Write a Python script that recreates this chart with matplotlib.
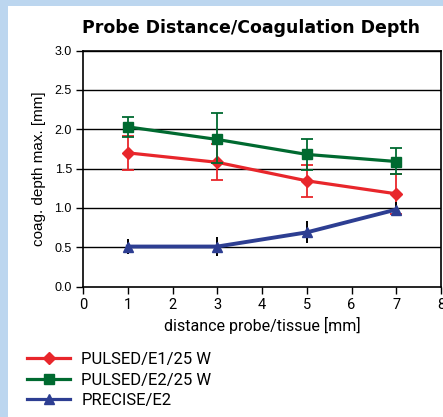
import matplotlib
matplotlib.use("Agg")
import matplotlib.pyplot as plt
from matplotlib.patches import Rectangle
from matplotlib.lines import Line2D

# Data
x = [1, 3, 5, 7]
e1_vals = [1.70, 1.58, 1.345, 1.18]
e1_lo = [1.48, 1.35, 1.145, 0.92]
e1_hi = [1.91, 1.81, 1.55, 1.43]

e2_vals = [2.03, 1.87, 1.68, 1.59]
e2_lo = [1.90, 1.57, 1.48, 1.43]
e2_hi = [2.16, 2.21, 1.88, 1.76]

pr_vals = [0.51, 0.51, 0.69, 0.98]
pr_lo = [0.42, 0.39, 0.55, 0.90]
pr_hi = [0.60, 0.63, 0.84, 1.08]

series_labels = ["PULSED/E1/25 W", "PULSED/E2/25 W", "PRECISE/E2"]
title = "Probe Distance/Coagulation Depth"
xlabel = "distance probe/tissue [mm]"
ylabel = "coag. depth max. [mm]"
xticks = [0, 1, 2, 3, 4, 5, 6, 7, 8]
yticks = [0.0, 0.5, 1.0, 1.5, 2.0, 2.5, 3.0]

RED = "#e8262b"
GREEN = "#006a30"
BLUE = "#2d3e92"
BG = "#bcd6ef"

W, H = 443, 417
fig = plt.figure(figsize=(W / 100, H / 100), dpi=100, facecolor=BG)
fig.patches.append(Rectangle((8 / W, 0), 1, 1 - 6 / H, transform=fig.transFigure,
                             facecolor="white", edgecolor="none", zorder=-10))

left, right = 83 / W, 441 / W
bottom, top = 1 - 286.7 / H, 1 - 50.5 / H
ax = fig.add_axes([left, bottom, right - left, top - bottom])
ax.set_facecolor("white")
ax.set_xlim(0, 8)
ax.set_ylim(0, 3)

for yv in yticks[1:]:
    ax.axhline(yv, color="black", lw=1.0, zorder=1)

def err(vals, lo, hi):
    return [[v - l for v, l in zip(vals, lo)], [h - v for v, h in zip(vals, hi)]]

ax.errorbar(x, e1_vals, yerr=err(e1_vals, e1_lo, e1_hi), color=RED, lw=2.3, marker="D",
            ms=6, capsize=4.5, capthick=1.3, elinewidth=1.3, zorder=3)
ax.errorbar(x, e2_vals, yerr=err(e2_vals, e2_lo, e2_hi), color=GREEN, lw=2.3, marker="s",
            ms=7.5, capsize=4.5, capthick=1.3, elinewidth=1.3, zorder=4)
ax.errorbar(x, pr_vals, yerr=err(pr_vals, pr_lo, pr_hi), color=BLUE, lw=2.8, marker="^",
            ms=7, ecolor="black", capsize=0, elinewidth=1.4, zorder=5)

ax.set_xticks(xticks)
ax.set_yticks(yticks)
ax.set_yticklabels([f"{v:.1f}" for v in yticks], fontfamily="Liberation Sans", fontsize=9)
ax.set_xticklabels([str(v) for v in xticks], fontfamily="Roboto", fontsize=10.5)
ax.tick_params(axis="both", direction="out", length=5, width=1, color="black", pad=3)
for s in ax.spines.values():
    s.set_linewidth(1.2)
    s.set_color("black")

ax.set_xlabel(xlabel, fontfamily="Roboto", fontsize=11.5, labelpad=4)
ax.set_ylabel(ylabel, fontfamily="Liberation Sans", fontsize=11, labelpad=6)
fig.text(0.5 * (83 + 420) / W, 1 - 28 / H, title, ha="center", va="center",
         fontfamily="DejaVu Sans", fontweight="bold", fontsize=12.5)

handles = [
    Line2D([], [], color=RED, lw=2.3, marker="D", ms=6),
    Line2D([], [], color=GREEN, lw=2.3, marker="s", ms=7.5),
    Line2D([], [], color=BLUE, lw=2.3, marker="^", ms=7),
]
fig.legend(handles, series_labels, loc="upper left", bbox_to_anchor=(27 / W, 1 - 352 / H),
           frameon=False, prop={"family": "Roboto", "size": 12}, handlelength=2.6,
           handletextpad=0.65, labelspacing=0.33, borderpad=0, borderaxespad=0)

fig.savefig("out.png", dpi=100, facecolor=BG)
